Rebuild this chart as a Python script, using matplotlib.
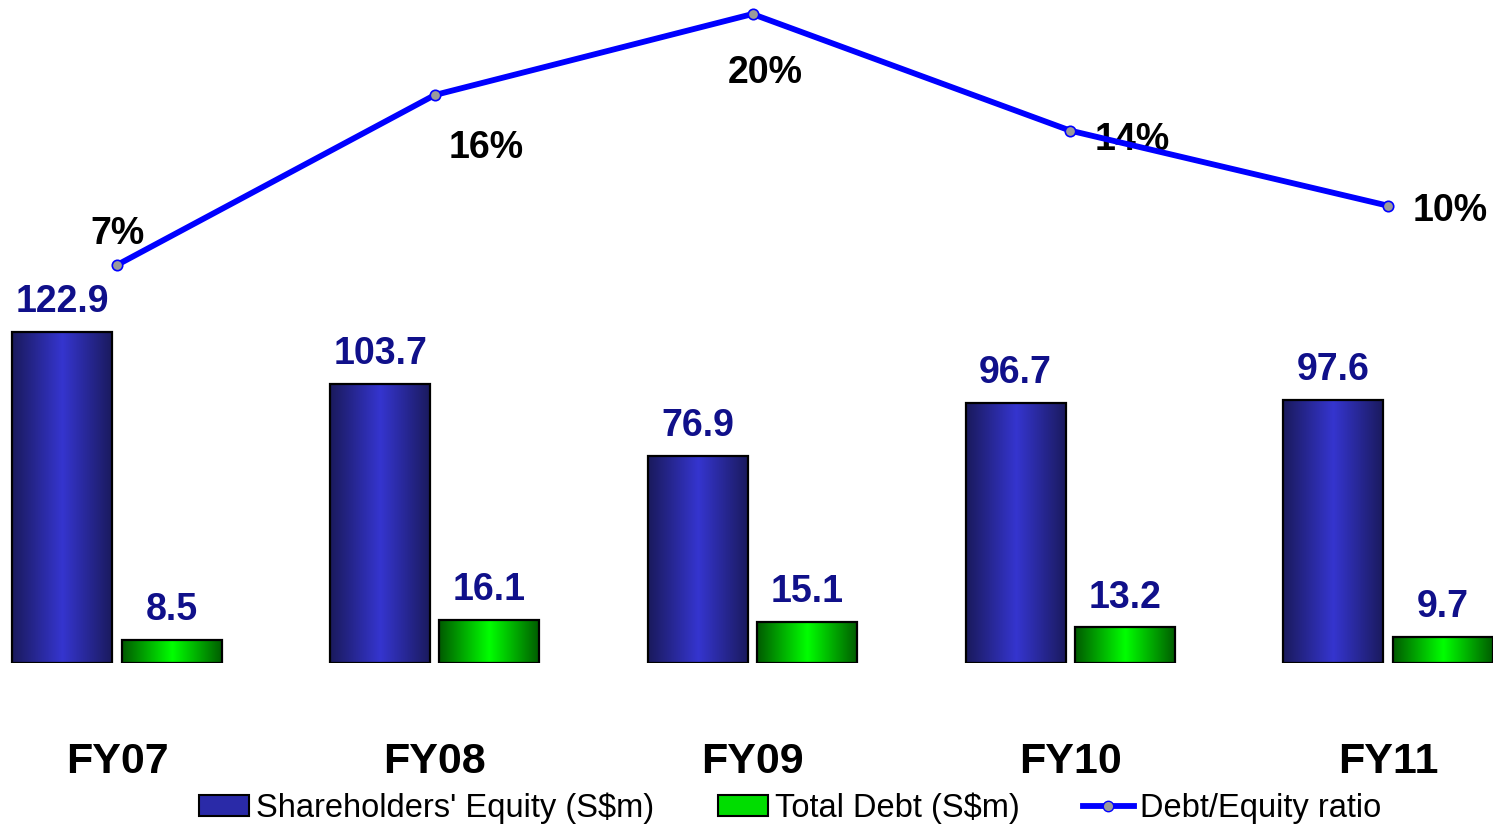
import numpy as np
import matplotlib
matplotlib.use("Agg")
import matplotlib.pyplot as plt
from matplotlib.patches import Patch
from matplotlib.lines import Line2D
from matplotlib.colors import LinearSegmentedColormap

plt.rcParams['font.family'] = ['Liberation Sans', 'DejaVu Sans']

years = ["FY07", "FY08", "FY09", "FY10", "FY11"]
equity = [122.9, 103.7, 76.9, 96.7, 97.6]
debt = [8.5, 16.1, 15.1, 13.2, 9.7]
ratio = [6.9, 15.5, 19.6, 13.7, 9.9]          # Debt/Equity in %
ratio_labels = ["7%", "16%", "20%", "14%", "10%"]

# label offsets (pixels) relative to each line point
ratio_offsets = [(0, 31), (51, -53), (13, -59), (62, -9), (62, -5)]

W, H = 1493, 827
fig = plt.figure(figsize=(W / 100, H / 100), dpi=100)
ax = fig.add_axes([0, (H - 663) / H, 1, 663 / H])
ax2 = ax.twinx()

x = np.arange(len(years))
bw = 0.315
off = 0.172

blue_cmap = LinearSegmentedColormap.from_list("b", ["#1a1a5c", "#3535cf", "#1a1a5c"])
green_cmap = LinearSegmentedColormap.from_list("g", ["#005a00", "#00ff00", "#005a00"])
grad = np.linspace(0, 1, 256).reshape(1, -1)


def gradient_bars(bars, cmap):
    for b in bars:
        bx, by, bwid, bh = b.get_x(), b.get_y(), b.get_width(), b.get_height()
        im = ax.imshow(grad, cmap=cmap, aspect='auto',
                       extent=[bx, bx + bwid, by, by + bh], zorder=2)
        im.set_clip_path(b)


b1 = ax.bar(x - off, equity, bw, facecolor='none', edgecolor='black', linewidth=1.6, zorder=3)
b2 = ax.bar(x + off, debt, bw, facecolor='none', edgecolor='black', linewidth=1.6, zorder=3)
gradient_bars(b1, blue_cmap)
gradient_bars(b2, green_cmap)

for xi, v in zip(x - off, equity):
    ax.annotate(f"{v:.1f}", (xi, v), xytext=(0, 21.5), textcoords='offset points',
                ha='center', va='center', fontsize=27, fontweight='bold', color='#10108a')
for xi, v in zip(x + off, debt):
    ax.annotate(f"{v:.1f}", (xi, v), xytext=(0, 21.5), textcoords='offset points',
                ha='center', va='center', fontsize=27, fontweight='bold', color='#10108a')

ax.set_xlim(-117 / 317.75, 4 + (W - 1388) / 317.75)
ax.set_ylim(0, 663 / 2.693)
ax.set_xticks(x)
ax.set_xticklabels(years, fontsize=31, fontweight='bold')
ax.tick_params(axis='x', length=0, pad=57)
ax.set_yticks([])
for s in ax.spines.values():
    s.set_visible(False)

ax2.plot(x, ratio, color='#0000ff', linewidth=4.2, marker='o', markersize=7.5,
         markerfacecolor='#9a9a9a', markeredgecolor='#0000ff', markeredgewidth=1.2,
         clip_on=False, zorder=4)
for xi, r, lab, (dx, dy) in zip(x, ratio, ratio_labels, ratio_offsets):
    ax2.annotate(lab, (xi, r), xytext=(dx * 0.72, dy * 0.72), textcoords='offset points',
                 ha='center', va='center', fontsize=27, fontweight='bold', color='black')
ax2.set_ylim(-13.24, 20.31)
ax2.set_yticks([])
for s in ax2.spines.values():
    s.set_visible(False)

handles = [
    Patch(facecolor='#2a2aa8', edgecolor='black', linewidth=1.5, label="Shareholders' Equity (S$m)"),
    Patch(facecolor='#00dd00', edgecolor='black', linewidth=1.5, label="Total Debt (S$m)"),
    Line2D([0], [0], color='#0000ff', linewidth=4.2, marker='o', markersize=7.5,
           markerfacecolor='#9a9a9a', markeredgecolor='#0000ff', label="Debt/Equity ratio"),
]
fig.legend(handles=handles, loc='center', bbox_to_anchor=(790 / W, 19 / H), ncol=3,
           frameon=False, fontsize=23.5, handlelength=1.55, handleheight=0.6,
           handletextpad=0.2, columnspacing=1.95)

fig.savefig("out.png", dpi=100)
